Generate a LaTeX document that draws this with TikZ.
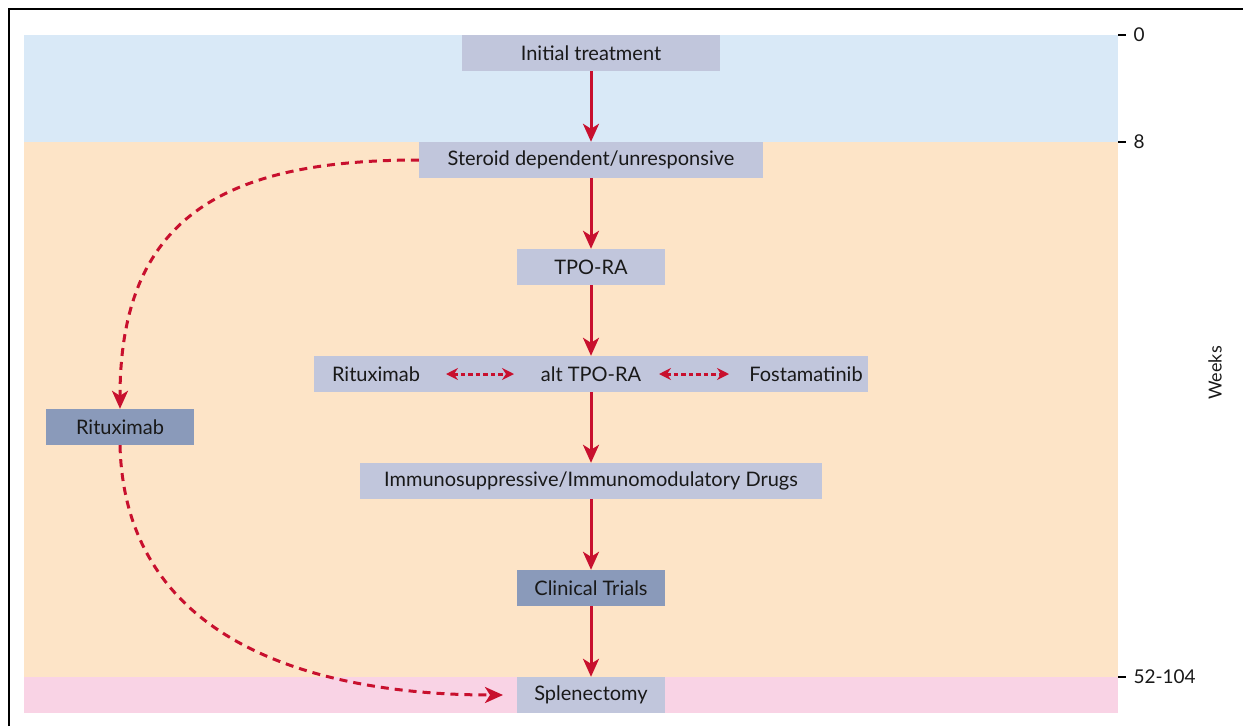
\documentclass[tikz,border=0pt]{standalone}
\usepackage{fontspec}
\setmainfont{Lato}
\usetikzlibrary{arrows.meta}
\definecolor{bandblue}{HTML}{D9E9F7}
\definecolor{bandorange}{HTML}{FDE4C7}
\definecolor{bandpink}{HTML}{F9D3E5}
\definecolor{boxlight}{HTML}{C1C6DC}
\definecolor{boxdark}{HTML}{8A9ABA}
\definecolor{arrred}{HTML}{C8102E}
\tikzset{
  boxfont/.style={font=\fontsize{20}{24}\selectfont, text=black!90},
  lbox/.style={boxfont, fill=boxlight, minimum height=36pt, inner sep=0pt},
  dbox/.style={boxfont, fill=boxdark, minimum height=36pt, inner sep=0pt},
  flow/.style={draw=arrred, line width=3pt, -{Stealth[length=18pt,width=16pt,inset=5pt]}},
  dflow/.style={draw=arrred, line width=3pt, dash pattern=on 8pt off 6pt, -{Stealth[length=18pt,width=16pt,inset=5pt]}},
  dboth/.style={draw=arrred, line width=3pt, dash pattern=on 4.5pt off 3pt, {Stealth[length=12pt,width=12pt,inset=4pt]}-{Stealth[length=12pt,width=12pt,inset=4pt]}},
  tick/.style={font=\fontsize{19}{22}\selectfont, anchor=west, text=black!90}
}
\begin{document}
\begin{tikzpicture}[x=1pt,y=-1pt]
\useasboundingbox (0,0) rectangle (1243,726);
% frame
\fill[white] (0,0) rectangle (1243,726);
\draw[black, line width=2.5pt] (9,726) -- (9,9) -- (1243,9);
% bands
\fill[bandblue] (24,35) rectangle (1118,142);
\fill[bandorange] (24,142) rectangle (1118,677);
\fill[bandpink] (24,677) rectangle (1118,713);
% ticks
\foreach \yy/\lab in {35/0,142/8,677/52-104}{
  \draw[black, line width=1.3pt] (1118,\yy) -- (1126,\yy);
  \node[tick] (t\yy) at (1130,\yy) {\lab};
}
\node[font=\fontsize{18}{21}\selectfont, rotate=90, text=black!90] (weeks) at (1215,373) {Weeks};
% boxes
\node[lbox, minimum width=258pt] (init) at (591,53) {Initial treatment};
\node[lbox, minimum width=344pt] (ster) at (591,160) {Steroid dependent/unresponsive};
\node[lbox, minimum width=148pt] (tpo) at (591,267) {TPO-RA};
\node[lbox, minimum width=554pt] (row) at (591,374) {};
\node[boxfont, inner sep=0pt] (ritA) at (376,374) {Rituximab};
\node[boxfont, inner sep=0pt] (alt) at (591,374) {alt TPO-RA};
\node[boxfont, inner sep=0pt] (fos) at (806,374) {Fostamatinib};
\node[lbox, minimum width=462pt] (imm) at (591,481) {Immunosuppressive/Immunomodulatory Drugs};
\node[dbox, minimum width=148pt] (clin) at (591,588) {Clinical Trials};
\node[lbox, minimum width=148pt] (spl) at (591,695) {Splenectomy};
\node[dbox, minimum width=148pt] (ritL) at (120,427) {Rituximab};
% flow arrows
\draw[flow] (init.south) -- (ster.north);
\draw[flow] (ster.south) -- (tpo.north);
\draw[flow] (tpo.south) -- (row.north);
\draw[flow] (row.south) -- (imm.north);
\draw[flow] (imm.south) -- (clin.north);
\draw[flow] (clin.south) -- (spl.north);
% double arrows
\coordinate (d1a) at (446,374); \coordinate (d1b) at (514,374);
\coordinate (d2a) at (659,374); \coordinate (d2b) at (729,374);
\draw[dboth] (d1a) -- (d1b);
\draw[dboth] (d2a) -- (d2b);
% dashed curves
\draw[dflow] (ster.west) .. controls (220,160) and (120,220) .. (ritL.north);
\coordinate (splin) at (503,695);
\draw[dflow] (ritL.south) .. controls (125,650) and (330,695) .. (splin);
\end{tikzpicture}
\end{document}
